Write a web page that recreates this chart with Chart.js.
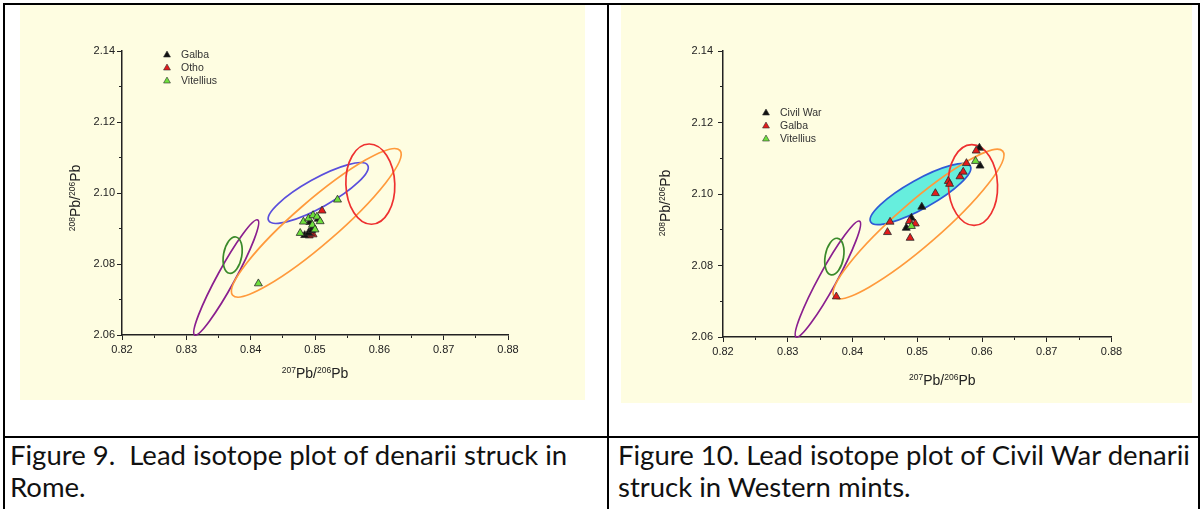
<!DOCTYPE html>
<html>
<head>
<meta charset="utf-8">
<title>Lead isotope plots – Figures 9 and 10</title>
<script src="https://cdn.jsdelivr.net/npm/chart.js@4.4.3/dist/chart.umd.min.js"></script>
<style>
  html, body { margin: 0; padding: 0; background: #fff; }
  #page { position: relative; width: 1203px; height: 509px; overflow: hidden; }
  .rule { position: absolute; background: #000; }
  .panel { position: absolute; background: #fefde1; }
  .caption {
    position: absolute;
    font-family: Lato, 'Open Sans', sans-serif;
    font-size: 27.5px;
    line-height: 32px;
    color: #111;
    white-space: pre;
  }
</style>
</head>
<body>
<div id="page">
  <div class="panel" style="left:20px;top:5px;width:565px;height:395px"><canvas id="fig9"></canvas></div>
  <div class="panel" style="left:621px;top:4px;width:571px;height:399px"><canvas id="fig10"></canvas></div>

  <div class="rule" style="left:3px;top:3px;width:1197px;height:2px"></div>
  <div class="rule" style="left:3px;top:3px;width:2px;height:506px"></div>
  <div class="rule" style="left:1198px;top:3px;width:2px;height:506px"></div>
  <div class="rule" style="left:607px;top:3px;width:2px;height:506px"></div>
  <div class="rule" style="left:3px;top:436px;width:1197px;height:2px"></div>

  <div class="caption" style="left:10px;top:439px">Figure 9.  Lead isotope plot of denarii struck in
Rome.</div>
  <div class="caption" style="left:618px;top:439px">Figure 10. Lead isotope plot of Civil War denarii
struck in Western mints.</div>
</div>

<script>
// ─────────────────────────────────────────────────────────────────────────────
// Data
// ─────────────────────────────────────────────────────────────────────────────

const X_MAJOR = [0.82, 0.83, 0.84, 0.85, 0.86, 0.87, 0.88];
const X_MINOR = [0.825, 0.835, 0.845, 0.855, 0.865, 0.875];
const Y_MAJOR = [2.06, 2.08, 2.10, 2.12, 2.14];
const Y_MINOR = [2.07, 2.09, 2.11, 2.13];

// Figure 9 – denarii struck in Rome  [207Pb/206Pb, 208Pb/206Pb]
const fig9Galba = [
  [0.8484, 2.0881], [0.8490, 2.0888], [0.8495, 2.0895], [0.8497, 2.0905],
  [0.8492, 2.0918], [0.8505, 2.0927],
];
const fig9Otho = [
  [0.8511, 2.0950], [0.8491, 2.0880], [0.8497, 2.0883], [0.8493, 2.0887],
];
const fig9Vitellius = [
  [0.8535, 2.0981], [0.8412, 2.0745], [0.8477, 2.0887], [0.8482, 2.0919],
  [0.8490, 2.0928], [0.8497, 2.0937], [0.8503, 2.0933], [0.8508, 2.0920],
  [0.8496, 2.0910], [0.8500, 2.0897],
];

// Figure 10 – Civil War denarii struck in Western mints
const fig10CivilWar = [
  [0.8596, 2.1129], [0.8597, 2.1079], [0.8507, 2.0964], [0.8491, 2.0933],
  [0.8483, 2.0905],
];
const fig10Galba = [
  [0.8375, 2.0713], [0.8458, 2.0922], [0.8454, 2.0893], [0.8489, 2.0877],
  [0.8488, 2.0924], [0.8497, 2.0917], [0.8528, 2.1002], [0.8548, 2.1036],
  [0.8550, 2.1028], [0.8566, 2.1049], [0.8571, 2.1062], [0.8576, 2.1086],
  [0.8591, 2.1121],
];
const fig10Vitellius = [
  [0.8590, 2.1092], [0.8491, 2.0910],
];

// Ore-field ellipses, identical on both plots (data units):
// centre, semi-axis u, conjugate semi-axis v.   blue, purple, green, orange, red
const ellipseCentre = [[0.8505, 2.1000], [0.8362, 2.0762], [0.8372, 2.0825], [0.8502, 2.0916], [0.8586, 2.1025]];
const ellipseU      = [[0.0077, 0.0078], [0.0049, 0.0162], [0.0005, 0.0051], [0.0130, 0.0204], [-0.0002, 0.0113]];
const ellipseV      = [[0.0011, -0.0035], [0.0012, -0.0012], [0.0014, -0.0004], [0.0022, -0.0046], [0.0038, 0.0001]];

// ─────────────────────────────────────────────────────────────────────────────
// Styling
// ─────────────────────────────────────────────────────────────────────────────

const FONT = "'Liberation Sans', Arial, sans-serif";
const INK = '#222';
const BLACK = '#111', RED = '#e21b1b', GREEN = '#6ee03c';

// ─────────────────────────────────────────────────────────────────────────────
// Plugins
// ─────────────────────────────────────────────────────────────────────────────

// ellipses drawn through the chart's own scales
const leadFields = {
  id: 'leadFields',
  beforeDatasetsDraw(chart, args, opts) {
    const { ctx } = chart;
    const xs = chart.scales.x, ys = chart.scales.y;
    ellipseCentre.forEach((c, i) => {
      const cx = xs.getPixelForValue(c[0]), cy = ys.getPixelForValue(c[1]);
      const u = ellipseU[i], v = ellipseV[i];
      const ux = xs.getPixelForValue(c[0] + u[0]) - cx, uy = ys.getPixelForValue(c[1] + u[1]) - cy;
      const vx = xs.getPixelForValue(c[0] + v[0]) - cx, vy = ys.getPixelForValue(c[1] + v[1]) - cy;
      ctx.save();
      ctx.beginPath();
      ctx.transform(ux, uy, vx, vy, cx, cy);
      ctx.arc(0, 0, 1, 0, Math.PI * 2);
      ctx.restore();   // path survives, line width stays in pixels
      ctx.save();
      if (opts.fills[i]) { ctx.fillStyle = opts.fills[i]; ctx.fill(); }
      ctx.strokeStyle = opts.strokes[i];
      ctx.lineWidth = 1.7;
      ctx.stroke();
      ctx.restore();
    });
  },
};

// "207Pb/206Pb" style titles with real superscripts
function drawIso(ctx, x, y, parts) {
  const big = `14px ${FONT}`, sup = `8.5px ${FONT}`;
  let w = 0;
  parts.forEach(([t, s]) => { ctx.font = s ? sup : big; w += ctx.measureText(t).width; });
  let cur = x - w / 2;
  ctx.textBaseline = 'alphabetic';
  ctx.textAlign = 'left';
  parts.forEach(([t, s]) => {
    ctx.font = s ? sup : big;
    ctx.fillText(t, cur, s ? y - 5 : y);
    cur += ctx.measureText(t).width;
  });
}

const isoTitles = {
  id: 'isoTitles',
  afterDraw(chart, args, opts) {
    const { ctx, chartArea: a } = chart;
    ctx.save();
    ctx.fillStyle = INK;
    drawIso(ctx, (a.left + a.right) / 2 + opts.xShift, a.bottom + opts.xDrop + 5,
      [['207', true], ['Pb/', false], ['206', true], ['Pb', false]]);
    ctx.translate(a.left - opts.yGap + 5, (a.top + a.bottom) / 2 + opts.yShift);
    ctx.rotate(-Math.PI / 2);
    drawIso(ctx, 0, 0, [['208', true], ['Pb/', false], ['206', true], ['Pb', false]]);
    ctx.restore();
  },
};

// legend inset at the top left of the plot area
const insetLegend = {
  id: 'insetLegend',
  afterDatasetsDraw(chart, args, opts) {
    const { ctx, chartArea: a } = chart;
    chart.data.datasets.forEach((ds, i) => {
      const x = a.left + opts.dx, y = a.top + opts.dy + i * opts.row;
      ctx.save();
      ctx.fillStyle = ds.backgroundColor;
      ctx.strokeStyle = '#333';
      ctx.lineWidth = 0.6;
      Chart.helpers.drawPoint(ctx, { pointStyle: 'triangle', radius: 4, rotation: 0, borderWidth: 0.6 }, x, y);
      ctx.fillStyle = '#333';
      ctx.font = `10.5px ${FONT}`;
      ctx.textBaseline = 'middle';
      ctx.fillText(ds.label, x + 14, y + 0.5);
      ctx.restore();
    });
  },
};

// ─────────────────────────────────────────────────────────────────────────────
// Chart builder
// ─────────────────────────────────────────────────────────────────────────────

function tickList(major, minor) {
  return major.map(v => ({ value: v, major: true }))
    .concat(minor.map(v => ({ value: v, major: false })))
    .sort((p, q) => p.value - q.value);
}

function series(label, data, colour, order) {
  return {
    label, data, order,
    backgroundColor: colour,
    borderColor: '#2a2a2a',
    borderWidth: 0.8,
    pointStyle: 'triangle',
    pointRadius: 4.6,
    pointHoverRadius: 4.6,
  };
}

function buildPlot(canvasId, datasets, lay) {
  const tickFont = { family: FONT, size: 11 };
  return new Chart(document.getElementById(canvasId), {
    type: 'scatter',
    data: { datasets },
    options: {
      responsive: true,
      maintainAspectRatio: false,
      animation: false,
      events: [],
      layout: { padding: { top: lay.top, right: lay.right, left: 0, bottom: 0 } },
      plugins: {
        legend: { display: false },
        tooltip: { enabled: false },
        leadFields: { strokes: lay.strokes, fills: lay.fills },
        isoTitles: lay.titles,
        insetLegend: lay.legend,
      },
      scales: {
        x: {
          type: 'linear',
          min: X_MAJOR[0],
          max: X_MAJOR[X_MAJOR.length - 1],
          afterBuildTicks: s => { s.ticks = tickList(X_MAJOR, X_MINOR); },
          afterFit: s => { s.height = lay.bottom; },
          grid: {
            drawOnChartArea: false, tickLength: 5, tickColor: INK, tickWidth: 1,
            tickBorderDash: c => (c.tick && c.tick.major) ? [] : [2.5, 10],
          },
          border: { color: INK, width: 1.5 },
          ticks: {
            font: tickFont, color: INK, padding: 3, autoSkip: false, maxRotation: 0,
            callback: (v, i, t) => t[i].major ? v.toFixed(2) : '',
          },
        },
        y: {
          type: 'linear',
          min: Y_MAJOR[0],
          max: Y_MAJOR[Y_MAJOR.length - 1],
          afterBuildTicks: s => { s.ticks = tickList(Y_MAJOR, Y_MINOR); },
          afterFit: s => { s.width = lay.left; },
          grid: {
            drawOnChartArea: false, tickLength: 5, tickColor: INK, tickWidth: 1,
            tickBorderDash: c => (c.tick && c.tick.major) ? [] : [0, 2, 3, 10],
          },
          border: { color: INK, width: 1.5 },
          ticks: {
            font: tickFont, color: INK, padding: lay.yPad, autoSkip: false,
            callback: (v, i, t) => t[i].major ? v.toFixed(2) : '',
          },
        },
      },
    },
    plugins: [leadFields, isoTitles, insetLegend],
  });
}

buildPlot('fig9', [
  series('Galba', fig9Galba, BLACK, 1),
  series('Otho', fig9Otho, RED, 2),
  series('Vitellius', fig9Vitellius, GREEN, 0),
], {
  top: 46, right: 77, bottom: 65, left: 102, yPad: 2,
  strokes: ['#5a4fdc', '#8a1f8f', '#3a8a2a', '#ff9a3c', '#ee3030'],
  fills: [null, null, null, null, null],
  titles: { xShift: 0, xDrop: 38, yGap: 47, yShift: 5 },
  legend: { dx: 45, dy: 4, row: 13 },
});

buildPlot('fig10', [
  series('Civil War', fig10CivilWar, BLACK, 2),
  series('Galba', fig10Galba, RED, 1),
  series('Vitellius', fig10Vitellius, GREEN, 0),
], {
  top: 47, right: 80.5, bottom: 66, left: 102, yPad: 5,
  strokes: ['#2f5bd6', '#8a1f8f', '#3a8a2a', '#ff9a3c', '#ee3030'],
  fills: ['#66eedd', null, null, null, null],
  titles: { xShift: 25, xDrop: 43, yGap: 58, yShift: 9 },
  legend: { dx: 43, dy: 62, row: 13 },
});
</script>
</body>
</html>
